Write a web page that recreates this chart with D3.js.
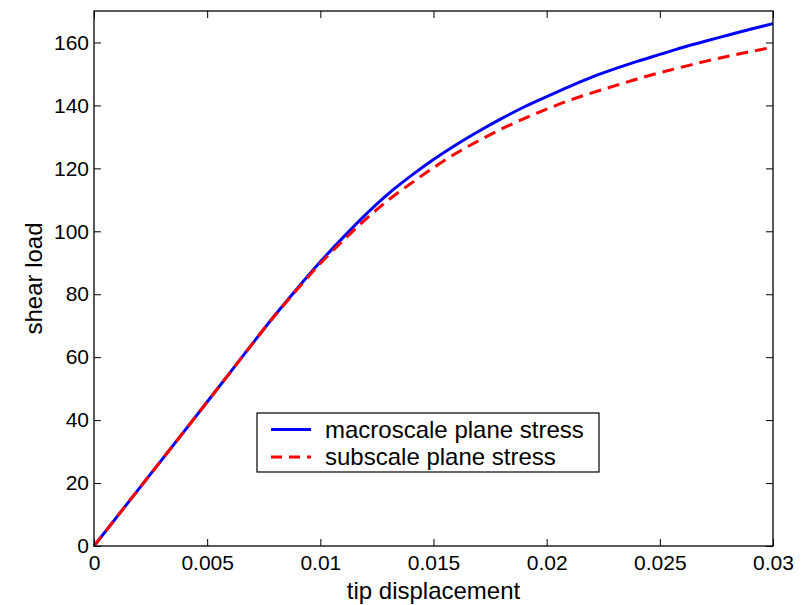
<!DOCTYPE html>
<html>
<head>
<meta charset="utf-8">
<script src="https://cdn.jsdelivr.net/npm/d3@7"></script>
<style>
  body { margin: 0; background: #fff; }
  svg { font-family: "Liberation Sans", Arial, sans-serif; }
</style>
</head>
<body>
<div id="chart"></div>
<script>
var displacement = [0, 0.002, 0.004, 0.006, 0.008, 0.009, 0.010, 0.011, 0.012, 0.013, 0.014,
  0.015, 0.016, 0.017, 0.018, 0.019, 0.020, 0.021, 0.022, 0.023, 0.024, 0.025, 0.026,
  0.027, 0.028, 0.029, 0.030];
var macroscale = [0, 18.3, 36.6, 55, 73.4, 82, 90.3, 98, 105.3, 111.9, 117.6,
  122.8, 127.5, 131.8, 135.8, 139.5, 142.8, 146, 149, 151.6, 154, 156.2, 158.4,
  160.4, 162.3, 164.2, 166];
var subscale = [0, 18.3, 36.6, 55, 73.3, 81.7, 89.8, 97, 103.8, 109.9, 115.2,
  120.2, 124.8, 128.8, 132.5, 135.8, 138.8, 141.6, 144, 146.2, 148.4, 150.4, 152.2,
  154, 155.6, 157.1, 158.5];
var xTicks = [0, 0.005, 0.01, 0.015, 0.02, 0.025, 0.03];
var yTicks = [0, 20, 40, 60, 80, 100, 120, 140, 160];
var seriesNames = ['macroscale plane stress', 'subscale plane stress'];

var width = 807, height = 605;
var margin = { left: 94, top: 11, right: 34, bottom: 59 };
var innerW = width - margin.left - margin.right;
var innerH = height - margin.top - margin.bottom;

var svg = d3.select('#chart').append('svg')
  .attr('width', width)
  .attr('height', height);

var g = svg.append('g')
  .attr('transform', 'translate(' + margin.left + ',' + margin.top + ')');

var x = d3.scaleLinear().domain([0, 0.03]).range([0, innerW]);
var y = d3.scaleLinear().domain([0, 170]).range([innerH, 0]);

// curves first, frame on top
var line = d3.line()
  .x(function(d) { return x(d[0]); })
  .y(function(d) { return y(d[1]); })
  .curve(d3.curveMonotoneX);

g.append('path')
  .datum(displacement.map(function(d, i) { return [d, macroscale[i]]; }))
  .attr('d', line)
  .attr('fill', 'none')
  .attr('stroke', '#0000ff')
  .attr('stroke-width', 3);

g.append('path')
  .datum(displacement.map(function(d, i) { return [d, subscale[i]]; }))
  .attr('d', line)
  .attr('fill', 'none')
  .attr('stroke', '#ff0000')
  .attr('stroke-width', 3)
  .attr('stroke-dasharray', '12,7');

// axes (ticks inward, mirrored on top/right)
var tickLen = 7;
var xFmt = function(d) { return d === 0 ? '0' : String(+d.toFixed(3)); };

var xAxis = g.append('g')
  .attr('transform', 'translate(0,' + innerH + ')')
  .call(d3.axisBottom(x).tickValues(xTicks).tickSize(-tickLen).tickPadding(17).tickFormat(xFmt));
var xTop = g.append('g')
  .call(d3.axisTop(x).tickValues(xTicks).tickSize(-tickLen).tickFormat(''));
var yAxis = g.append('g')
  .call(d3.axisLeft(y).tickValues(yTicks).tickSize(-tickLen).tickPadding(5));
var yRight = g.append('g')
  .attr('transform', 'translate(' + innerW + ',0)')
  .call(d3.axisRight(y).tickValues(yTicks).tickSize(-tickLen).tickFormat(''));

[xAxis, xTop, yAxis, yRight].forEach(function(a) {
  a.select('.domain').remove();
  a.selectAll('.tick line').attr('stroke', '#000').attr('stroke-width', 1);
  a.selectAll('.tick text')
    .attr('fill', '#000')
    .style('font-size', '21px')
    .style('font-family', '"Liberation Sans", Arial, sans-serif');
});
xAxis.selectAll('.tick text').attr('dy', '0.35em');

g.append('rect')
  .attr('width', innerW)
  .attr('height', innerH)
  .attr('fill', 'none')
  .attr('stroke', '#000')
  .attr('stroke-width', 1.3);

// axis labels
svg.append('text')
  .attr('x', margin.left + innerW / 2)
  .attr('y', 599)
  .attr('text-anchor', 'middle')
  .style('font-size', '24px')
  .text('tip displacement');

svg.append('text')
  .attr('transform', 'translate(42,' + (margin.top + innerH / 2) + ') rotate(-90)')
  .attr('text-anchor', 'middle')
  .style('font-size', '24px')
  .text('shear load');

// legend
var legend = svg.append('g').attr('transform', 'translate(257,413)');
legend.append('rect')
  .attr('width', 342)
  .attr('height', 59)
  .attr('fill', '#fff')
  .attr('stroke', '#000')
  .attr('stroke-width', 1.2);

var legendItems = legend.selectAll('.legend')
  .data(seriesNames)
  .enter()
  .append('g')
  .attr('class', 'legend')
  .attr('transform', function(d, i) { return 'translate(0,' + (16.5 + i * 27.5) + ')'; });

legendItems.append('line')
  .attr('x1', 14).attr('x2', 54)
  .attr('stroke', function(d, i) { return i === 0 ? '#0000ff' : '#ff0000'; })
  .attr('stroke-width', 3)
  .attr('stroke-dasharray', function(d, i) { return i === 0 ? null : '11,7'; });

legendItems.append('text')
  .attr('x', 68)
  .attr('dy', '0.35em')
  .style('font-size', '24px')
  .text(function(d) { return d; });
</script>
</body>
</html>
